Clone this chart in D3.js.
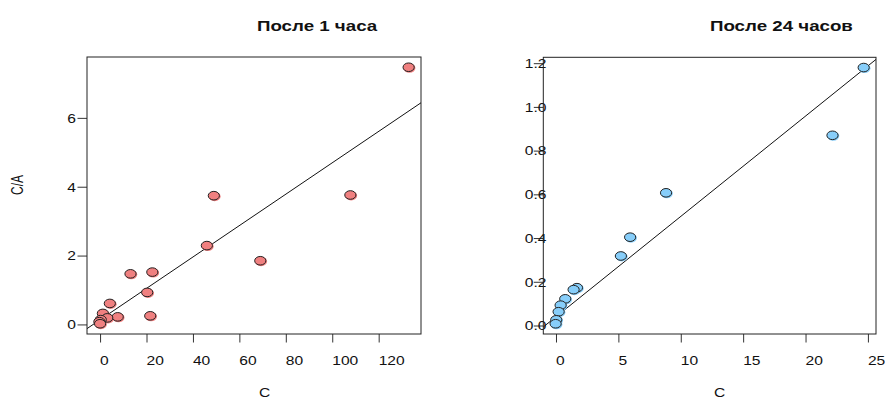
<!DOCTYPE html>
<html>
<head>
<meta charset="utf-8">
<script src="https://cdn.jsdelivr.net/npm/d3@7"></script>
<style>
  html, body { margin: 0; padding: 0; background: #fff; }
  svg { display: block; }
  text { font-family: "Liberation Sans", Arial, sans-serif; fill: #111; }
</style>
</head>
<body>
<svg id="chart" width="885" height="399"></svg>
<script>
// After 1 hour: C vs C/A
const hour1C  = [132.9, 107.8, 49.0, 46.0, 69.0, 13.1, 22.5, 20.3, 21.6, 4.2, 7.6, 1.2, 3.1, 0.3, -0.3, 0.0];
const hour1CA = [7.47, 3.76, 3.74, 2.29, 1.85, 1.47, 1.52, 0.93, 0.25, 0.61, 0.22, 0.32, 0.19, 0.14, 0.08, 0.02];
// After 24 hours: C vs C/A
const hour24C  = [24.66, 22.16, 8.82, 5.94, 5.20, 1.68, 1.41, 0.74, 0.37, 0.21, 0.02, -0.03];
const hour24CA = [1.180, 0.870, 0.607, 0.404, 0.318, 0.173, 0.164, 0.122, 0.093, 0.063, 0.026, 0.008];
// Fitted lines (intercept, slope)
const hour1Fit  = [0.135, 0.0456];
const hour24Fit = [0.040, 0.0459];
// Tick values
const hour1XTicks  = [0, 20, 40, 60, 80, 100, 120];
const hour1YTicks  = [0, 2, 4, 6];
const hour24XTicks = [0, 5, 10, 15, 20, 25];
const hour24YTicks = [0.0, 0.2, 0.4, 0.6, 0.8, 1.0, 1.2];
const titles = ["После 1 часа", "После 24 часов"];

const SX = 1.3; // horizontal text stretch
const svg = d3.select("#chart");

function pad(ext) {
  const r = ext[1] - ext[0];
  return [ext[0] - 0.04 * r, ext[1] + 0.04 * r];
}

function panel(opt) {
  const x = d3.scaleLinear().domain(pad(d3.extent(opt.xs))).range([opt.box.l, opt.box.r]);
  const y = d3.scaleLinear().domain(pad(d3.extent(opt.ys))).range([opt.box.b, opt.box.t]);
  const g = svg.append("g");
  const clipId = "clip" + opt.id;
  svg.append("clipPath").attr("id", clipId).append("rect")
    .attr("x", opt.box.l).attr("y", opt.box.t)
    .attr("width", opt.box.r - opt.box.l).attr("height", opt.box.b - opt.box.t);

  // x axis
  const xa = g.append("g").attr("transform", `translate(0,${opt.box.b})`)
    .call(d3.axisBottom(x).tickValues(opt.xTicks).tickSize(8.5).tickFormat(opt.xFmt));
  xa.select(".domain").remove();
  xa.selectAll(".tick line").attr("stroke", "#333");
  xa.selectAll(".tick text")
    .attr("x", null).attr("y", null).attr("dy", null)
    .attr("text-anchor", "start")
    .attr("font-size", 12)
    .attr("transform", `translate(-0.5,31) scale(${SX},1)`);

  // y axis
  const ya = g.append("g").attr("transform", `translate(${opt.box.l},0)`)
    .call(d3.axisLeft(y).tickValues(opt.yTicks).tickSize(9.5).tickFormat(opt.yFmt));
  ya.select(".domain").remove();
  ya.selectAll(".tick line").attr("stroke", "#333");
  ya.selectAll(".tick text")
    .attr("x", null).attr("y", null).attr("dy", null)
    .attr("text-anchor", opt.yAnchor)
    .attr("font-size", 12)
    .attr("transform", `translate(${opt.yLabelX},4.3) scale(${SX},1)`);

  // box
  g.append("rect")
    .attr("x", opt.box.l).attr("y", opt.box.t)
    .attr("width", opt.box.r - opt.box.l).attr("height", opt.box.b - opt.box.t)
    .attr("fill", "none").attr("stroke", "#222").attr("stroke-width", 1);

  // fitted line
  const [x0, x1] = x.domain();
  g.append("line")
    .attr("clip-path", `url(#${clipId})`)
    .attr("x1", x(x0)).attr("y1", y(opt.fit[0] + opt.fit[1] * x0))
    .attr("x2", x(x1)).attr("y2", y(opt.fit[0] + opt.fit[1] * x1))
    .attr("stroke", "#111").attr("stroke-width", 1);

  // points
  const pts = opt.xs.map((v, i) => [v, opt.ys[i]]);
  const pg = g.append("g");
  pg.selectAll("ellipse.shade").data(pts).join("ellipse")
    .attr("class", "shade")
    .attr("cx", d => x(d[0]) + 0.8).attr("cy", d => y(d[1]) + 0.8)
    .attr("rx", 6).attr("ry", 4.7)
    .attr("fill", opt.fill);
  pg.selectAll("ellipse.pt").data(pts).join("ellipse")
    .attr("class", "pt")
    .attr("cx", d => x(d[0])).attr("cy", d => y(d[1]))
    .attr("rx", 5.6).attr("ry", 4.3)
    .attr("fill", opt.fill).attr("stroke", "#222").attr("stroke-width", 1);

  // title
  svg.append("text")
    .attr("transform", `translate(${opt.titleX},31) scale(${SX},1)`)
    .attr("font-size", 14.4).attr("font-weight", "bold")
    .text(opt.title);
  // x label
  svg.append("text")
    .attr("transform", `translate(${opt.xLabX},397) scale(${SX},1)`)
    .attr("font-size", 12)
    .text("C");
}

panel({
  id: 1, xs: hour1C, ys: hour1CA, fit: hour1Fit,
  box: { l: 87, r: 421, t: 57, b: 334 },
  xTicks: hour1XTicks, yTicks: hour1YTicks,
  xFmt: d3.format("d"), yFmt: d3.format("d"),
  yAnchor: "end", yLabelX: -11,
  fill: "#F08080", title: titles[0], titleX: 257, xLabX: 259
});

panel({
  id: 2, xs: hour24C, ys: hour24CA, fit: hour24Fit,
  box: { l: 543.3, r: 876, t: 57.3, b: 334 },
  xTicks: hour24XTicks, yTicks: hour24YTicks,
  xFmt: d3.format("d"), yFmt: d3.format(".1f"),
  yAnchor: "start", yLabelX: -18.5,
  fill: "#87CEFA", title: titles[1], titleX: 710, xLabX: 714
});

// y label for the first panel
svg.append("text")
  .attr("transform", "translate(23,185) rotate(-90) scale(1,1.3)")
  .attr("text-anchor", "middle")
  .attr("font-size", 12)
  .text("C/A");
</script>
</body>
</html>
